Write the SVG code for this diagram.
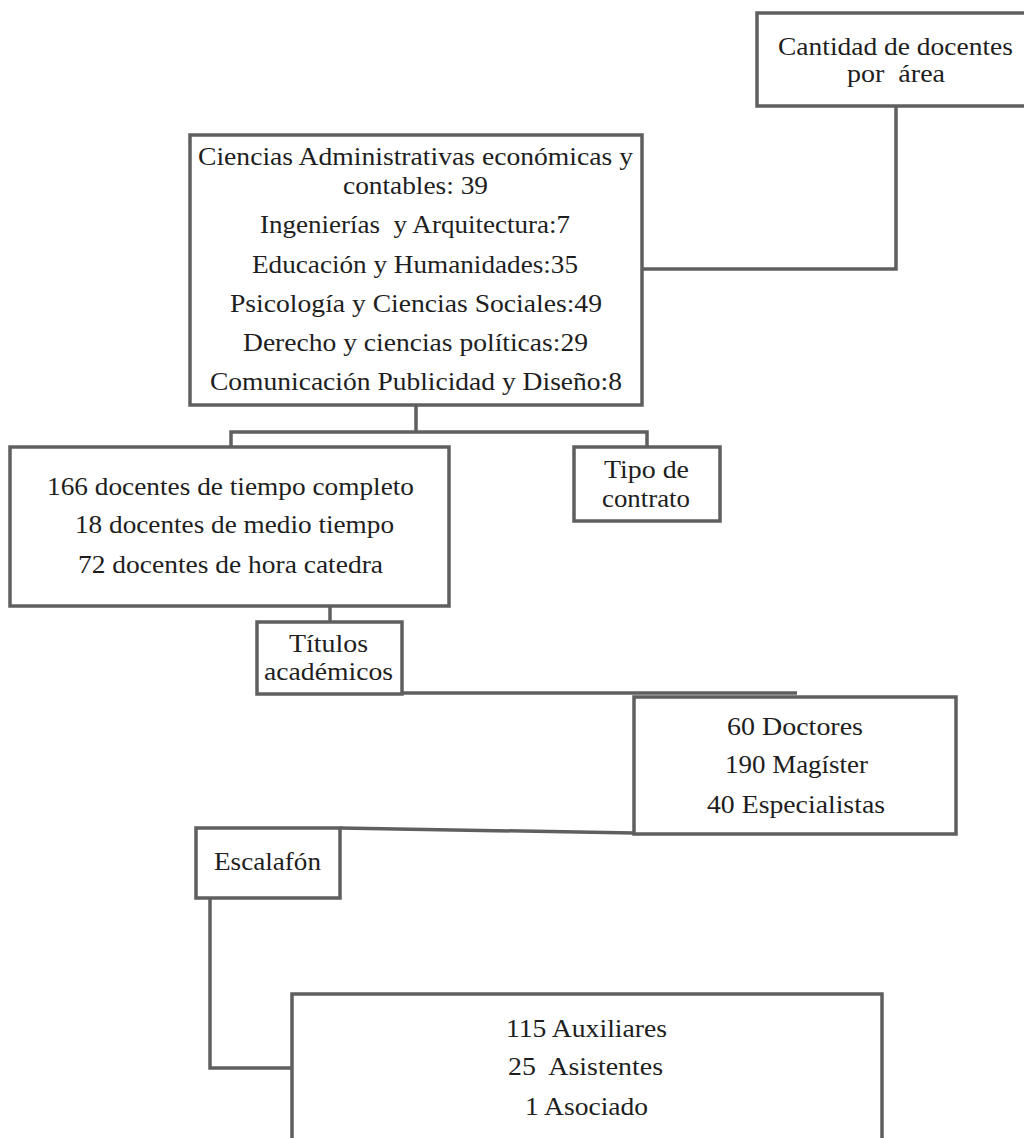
<svg xmlns="http://www.w3.org/2000/svg" width="1024" height="1138" viewBox="0 0 1024 1138">
<style>
.box{fill:#fff;stroke:#5f5f5f;stroke-width:3.5}
.ln{fill:none;stroke:#5f5f5f;stroke-width:3.5}
.t{font-family:'Liberation Serif','Times New Roman',Times,Tinos,'Nimbus Roman','Nimbus Roman No9 L',FreeSerif,'Noto Serif',serif;font-size:26px;fill:#1e1e1e}
</style>
<rect width="1024" height="1138" fill="#fff"/>
<g id="connectors">
<polyline class="ln" points="896,106 896,269 642,269"/>
<polyline class="ln" points="416,405 416,432"/>
<polyline class="ln" points="231,447 231,432 647,432 647,447"/>
<polyline class="ln" points="330,606 330,622"/>
<polyline class="ln" points="330,693 797,693"/>
<polyline class="ln" points="340,828 634,833"/>
<polyline class="ln" points="210,898 210,1068 292,1068"/>
</g>
<g id="n-cantidad" class="t">
<rect class="box" x="757" y="13" width="280" height="93"/>
<text x="778" y="55" textLength="235" lengthAdjust="spacingAndGlyphs">Cantidad de docentes</text>
<text x="847" y="82" textLength="98" lengthAdjust="spacingAndGlyphs" xml:space="preserve">por  área</text>
</g>
<g id="n-areas" class="t">
<rect class="box" x="190" y="135" width="452" height="270"/>
<text x="198" y="165" textLength="435" lengthAdjust="spacingAndGlyphs">Ciencias Administrativas económicas y</text>
<text x="343" y="194" textLength="145" lengthAdjust="spacingAndGlyphs">contables: 39</text>
<text x="260" y="233" textLength="310" lengthAdjust="spacingAndGlyphs" xml:space="preserve">Ingenierías  y Arquitectura:7</text>
<text x="252" y="273" textLength="326" lengthAdjust="spacingAndGlyphs">Educación y Humanidades:35</text>
<text x="230" y="312" textLength="372" lengthAdjust="spacingAndGlyphs">Psicología y Ciencias Sociales:49</text>
<text x="243" y="351" textLength="345" lengthAdjust="spacingAndGlyphs">Derecho y ciencias políticas:29</text>
<text x="210" y="390" textLength="412" lengthAdjust="spacingAndGlyphs">Comunicación Publicidad y Diseño:8</text>
</g>
<g id="n-docentes" class="t">
<rect class="box" x="10" y="447" width="439" height="159"/>
<text x="47" y="495" textLength="367" lengthAdjust="spacingAndGlyphs">166 docentes de tiempo completo</text>
<text x="75" y="533" textLength="319" lengthAdjust="spacingAndGlyphs">18 docentes de medio tiempo</text>
<text x="78" y="573" textLength="305" lengthAdjust="spacingAndGlyphs">72 docentes de hora catedra</text>
</g>
<g id="n-tipo" class="t">
<rect class="box" x="574" y="447" width="146" height="74"/>
<text x="604" y="478" textLength="85" lengthAdjust="spacingAndGlyphs">Tipo de</text>
<text x="602" y="507" textLength="88" lengthAdjust="spacingAndGlyphs">contrato</text>
</g>
<g id="n-titulos" class="t">
<rect class="box" x="257" y="622" width="145" height="72"/>
<text x="289" y="652" textLength="79" lengthAdjust="spacingAndGlyphs">Títulos</text>
<text x="264" y="680" textLength="129" lengthAdjust="spacingAndGlyphs">académicos</text>
</g>
<g id="n-grados" class="t">
<rect class="box" x="634" y="697" width="322" height="137"/>
<text x="727" y="735" textLength="136" lengthAdjust="spacingAndGlyphs">60 Doctores</text>
<text x="725" y="773" textLength="143" lengthAdjust="spacingAndGlyphs">190 Magíster</text>
<text x="707" y="813" textLength="178" lengthAdjust="spacingAndGlyphs">40 Especialistas</text>
</g>
<g id="n-escalafon" class="t">
<rect class="box" x="196" y="828" width="144" height="70"/>
<text x="214" y="870" textLength="107" lengthAdjust="spacingAndGlyphs">Escalafón</text>
</g>
<g id="n-categorias" class="t">
<rect class="box" x="292" y="994" width="590" height="160"/>
<text x="506" y="1037" textLength="161" lengthAdjust="spacingAndGlyphs">115 Auxiliares</text>
<text x="508" y="1075" textLength="155" lengthAdjust="spacingAndGlyphs" xml:space="preserve">25  Asistentes</text>
<text x="525" y="1115" textLength="123" lengthAdjust="spacingAndGlyphs">1 Asociado</text>
</g>
</svg>
